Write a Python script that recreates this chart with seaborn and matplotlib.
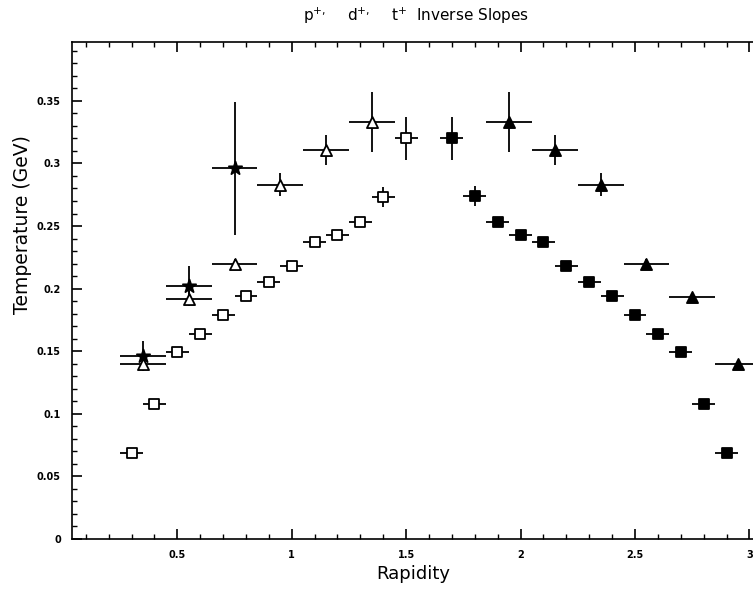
import matplotlib
matplotlib.use("Agg")
import matplotlib.pyplot as plt
import seaborn as sns
import pandas as pd
from matplotlib.ticker import MultipleLocator, FixedLocator

# ---- data ----
# protons (open squares, measured) and reflected (filled squares)
p_open_x = [0.3, 0.4, 0.5, 0.6, 0.7, 0.8, 0.9, 1.0, 1.1, 1.2, 1.3, 1.4, 1.5]
p_open_y = [0.069, 0.108, 0.149, 0.164, 0.179, 0.194, 0.205, 0.218, 0.237, 0.243, 0.253, 0.273, 0.320]
p_open_yerr = [0.003, 0.003, 0.003, 0.003, 0.003, 0.003, 0.003, 0.003, 0.003, 0.003, 0.003, 0.008, 0.017]

p_fill_x = [1.7, 1.8, 1.9, 2.0, 2.1, 2.2, 2.3, 2.4, 2.5, 2.6, 2.7, 2.8, 2.9]
p_fill_y = [0.320, 0.274, 0.253, 0.243, 0.237, 0.218, 0.205, 0.194, 0.179, 0.164, 0.149, 0.108, 0.069]
p_fill_yerr = [0.017, 0.008, 0.003, 0.003, 0.003, 0.003, 0.003, 0.003, 0.003, 0.003, 0.003, 0.003, 0.003]
p_xerr = 0.05

# deuterons (open triangles, measured) and reflected (filled triangles)
d_open_x = [0.35, 0.55, 0.75, 0.95, 1.15, 1.35]
d_open_y = [0.140, 0.192, 0.220, 0.283, 0.311, 0.333]
d_open_yerr = [0.005, 0.006, 0.004, 0.009, 0.012, 0.024]

d_fill_x = [1.95, 2.15, 2.35, 2.55, 2.75, 2.95]
d_fill_y = [0.333, 0.311, 0.283, 0.220, 0.193, 0.140]
d_fill_yerr = [0.024, 0.012, 0.009, 0.004, 0.003, 0.003]
d_xerr = 0.1

# tritons (stars)
t_x = [0.35, 0.55, 0.75]
t_y = [0.146, 0.202, 0.296]
t_yerr = [0.012, 0.016, 0.053]
t_xerr = 0.1

x_ticks = [0.5, 1.0, 1.5, 2.0, 2.5, 3.0]
x_ticklabels = ["0.5", "1", "1.5", "2", "2.5", "3"]
y_ticks = [0, 0.05, 0.1, 0.15, 0.2, 0.25, 0.3, 0.35]
y_ticklabels = ["0", "0.05", "0.1", "0.15", "0.2", "0.25", "0.3", "0.35"]

# ---- figure ----
sns.set_theme(style="ticks")
plt.rcParams['font.family'] = ['DejaVu Sans']
plt.rcParams['text.color'] = 'black'
plt.rcParams['axes.labelcolor'] = 'black'
plt.rcParams['xtick.color'] = 'black'
plt.rcParams['ytick.color'] = 'black'

fig = plt.figure(figsize=(7.53, 5.89), dpi=100)
ax = fig.add_axes([72/753, 1-539/589, 1-72/753 + 0.002, (539-42)/589])

series = [
    (p_open_x, p_open_y, p_open_yerr, p_xerr, 's', 'white', 7.5),
    (p_fill_x, p_fill_y, p_fill_yerr, p_xerr, 's', 'black', 7.5),
    (d_open_x, d_open_y, d_open_yerr, d_xerr, '^', 'white', 8),
    (d_fill_x, d_fill_y, d_fill_yerr, d_xerr, '^', 'black', 8),
    (t_x, t_y, t_yerr, t_xerr, '*', 'black', 10),
]

for xs, ys, yerr, xerr, mk, fc, ms in series:
    ax.errorbar(xs, ys, yerr=yerr, xerr=xerr, fmt='none', ecolor='black',
                elinewidth=1.3, capsize=0, zorder=2)
    df = pd.DataFrame({"x": xs, "y": ys})
    sns.scatterplot(data=df, x="x", y="y", marker=mk, s=ms**2,
                    facecolor=fc, edgecolor='black', linewidth=1.3,
                    ax=ax, zorder=3, legend=False)

ax.set_xlim(0.04, 3.022)
ax.set_ylim(0, 0.397)

ax.xaxis.set_major_locator(FixedLocator(x_ticks))
ax.set_xticklabels(x_ticklabels)
ax.xaxis.set_minor_locator(MultipleLocator(0.1))
ax.yaxis.set_major_locator(FixedLocator(y_ticks))
ax.set_yticklabels(y_ticklabels)
ax.yaxis.set_minor_locator(MultipleLocator(0.01))

ax.tick_params(which='both', direction='in', top=True, right=False, color='black')
ax.tick_params(which='major', length=7, width=1.2, labelsize=7, pad=8)
ax.tick_params(which='minor', length=3.5, width=1.0)
for lab in ax.get_xticklabels() + ax.get_yticklabels():
    lab.set_fontweight('bold')
    lab.set_color('black')

for side in ['left', 'bottom', 'top']:
    ax.spines[side].set_visible(True)
    ax.spines[side].set_color('black')
    ax.spines[side].set_linewidth(1.2)
ax.spines['right'].set_visible(False)

ax.set_xlabel("Rapidity", fontsize=13, color='black')
ax.set_ylabel("Temperature (GeV)", fontsize=13.5, color='black')
ax.xaxis.set_label_coords(0.5, -0.052)
ax.yaxis.set_label_coords(-0.059, 0.632)
ax.grid(False)

fig.text(416/753, 1-16/589, r"p$^{+,}$    d$^{+,}$    t$^{+}$  Inverse Slopes",
         ha='center', va='center', fontsize=11, color='black')

fig.savefig("out.png", dpi=100)
